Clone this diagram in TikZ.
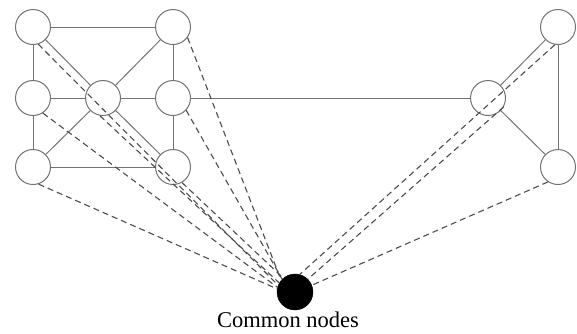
\documentclass[tikz,border=0pt]{standalone}
\usepackage{fontspec}
\setmainfont{Liberation Serif}
\begin{document}
\begin{tikzpicture}[x=1pt,y=-1pt,
  vertex/.style={circle,draw=black!55,line width=1pt,minimum size=35pt,inner sep=0pt},
  hub/.style={circle,fill=black,draw=black,minimum size=36pt,inner sep=0pt},
  link/.style={draw=black!55,line width=1pt},
  tie/.style={draw=black!70,line width=1.1pt,dash pattern=on 6pt off 4pt}]
\useasboundingbox (0,0) rectangle (577,333);
% left cluster
\node[vertex] (tl) at (33,27) {};
\node[vertex] (tr) at (173,27) {};
\node[vertex] (ml) at (33,98) {};
\node[vertex] (c)  at (103,98) {};
\node[vertex] (mr) at (173,98) {};
\node[vertex] (bl) at (33,167) {};
\node[vertex] (br) at (173,167) {};
% right cluster
\node[vertex] (rt) at (558,27) {};
\node[vertex] (rm) at (488,98) {};
\node[vertex] (rb) at (558,167) {};
% shared node
\node[hub] (k) at (295,292) {};
\node[font=\fontsize{22.5}{26}\selectfont] (lbl) at (288,320) {Common nodes};
% solid edges
\foreach \a/\b in {tl/tr,tl/ml,ml/bl,bl/br,tr/mr,mr/br,ml/c,c/mr,tl/c,c/tr,c/bl,c/br,mr/rm,rm/rt,rt/rb,rm/rb}
  \draw[link] (\a) -- (\b);
% dashed ties to the shared node (source anchor / hub anchor)
\foreach \a/\s/\e in {tl/-73/158,c/-100/150,ml/-57/165,bl/-72/170,tr/-36/140,mr/-43/135,br/-60/130,rt/-100/75,rm/-30/45,rb/-124/22}
  \draw[tie] (\a.\s) -- (k.\e);
\end{tikzpicture}
\end{document}
